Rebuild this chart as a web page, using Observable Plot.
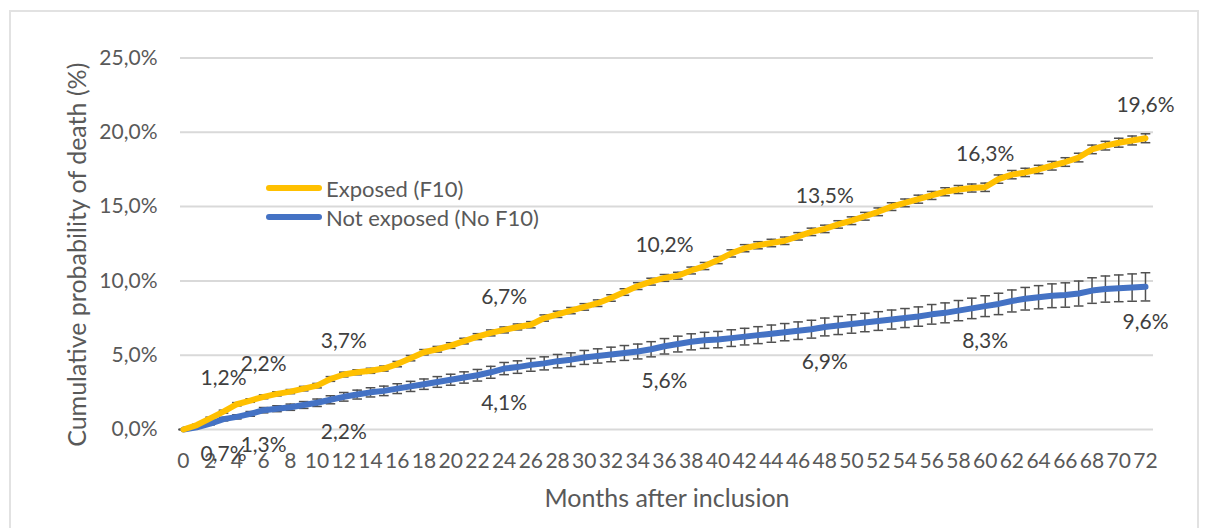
<!DOCTYPE html>
<html><head><meta charset="utf-8">
<script src="https://cdn.jsdelivr.net/npm/d3@7"></script>
<script src="https://cdn.jsdelivr.net/npm/@observablehq/plot@0.6"></script>
<style>
body{margin:0;background:#fff;}
#wrap{position:relative;width:1209px;height:528px;overflow:hidden;font-family:Lato,sans-serif;}
#frame{position:absolute;left:9px;top:10px;width:1190px;height:530px;border:2px solid #e2e2e2;box-sizing:border-box;}
#chart{position:absolute;left:0;top:0;}
.leg{position:absolute;left:266px;height:24px;display:flex;align-items:center;font-size:22px;color:#595959;}
.leg span.sw{display:inline-block;width:56px;height:6px;border-radius:3px;margin-right:4px;}
</style>
</head><body>
<div id="wrap"><div id="frame"></div><div id="chart"></div>
<div class="leg" style="top:176px"><span class="sw" style="background:#FFC000"></span>Exposed (F10)</div>
<div class="leg" style="top:205px"><span class="sw" style="background:#4472C4"></span>Not exposed (No F10)</div>
</div>
<script>
const months = d3.range(0, 73);
const exposed = [0.0,0.3,0.75,1.2,1.7,1.95,2.2,2.4,2.55,2.75,
 2.95,3.4,3.7,3.85,3.95,4.1,4.4,4.8,5.2,5.4,
 5.65,5.95,6.25,6.5,6.7,6.9,7.05,7.5,7.75,8.0,
 8.25,8.5,8.85,9.25,9.65,9.95,10.2,10.35,10.7,11.0,
 11.4,11.85,12.2,12.4,12.55,12.7,13.0,13.3,13.5,13.8,
 14.05,14.35,14.65,15.0,15.25,15.5,15.75,16.0,16.15,16.25,
 16.3,16.85,17.15,17.3,17.5,17.75,18.0,18.3,18.85,19.1,
 19.3,19.45,19.6];
const exposedErr = [0,0.05,0.08,0.1,0.11,0.12,0.13,0.14,0.14,0.15,
 0.15,0.16,0.16,0.17,0.17,0.17,0.18,0.18,0.18,0.19,
 0.19,0.19,0.2,0.2,0.2,0.2,0.21,0.21,0.21,0.21,
 0.22,0.22,0.22,0.22,0.23,0.23,0.23,0.23,0.23,0.24,
 0.24,0.24,0.24,0.24,0.25,0.25,0.25,0.25,0.25,0.25,
 0.26,0.26,0.26,0.26,0.26,0.27,0.27,0.27,0.27,0.27,
 0.28,0.28,0.28,0.28,0.28,0.29,0.29,0.29,0.29,0.29,
 0.3,0.3,0.3];
const notExposed = [0,0.15,0.4,0.7,0.85,1.05,1.3,1.4,1.5,1.65,
 1.8,2.0,2.2,2.35,2.5,2.6,2.75,2.9,3.05,3.2,
 3.35,3.5,3.65,3.85,4.1,4.2,4.35,4.45,4.6,4.7,
 4.85,4.95,5.05,5.15,5.25,5.4,5.6,5.75,5.9,6.0,
 6.05,6.15,6.25,6.35,6.45,6.55,6.65,6.75,6.9,7.0,
 7.1,7.2,7.3,7.4,7.5,7.6,7.75,7.85,8.0,8.15,
 8.3,8.45,8.65,8.8,8.9,9.0,9.05,9.15,9.35,9.45,
 9.5,9.55,9.6];
const notExposedErr = [0,0.05,0.09,0.12,0.14,0.16,0.18,0.2,0.21,0.23,
 0.25,0.27,0.29,0.3,0.31,0.32,0.33,0.34,0.35,0.36,
 0.37,0.38,0.39,0.4,0.41,0.42,0.43,0.44,0.45,0.46,
 0.47,0.48,0.49,0.5,0.5,0.51,0.52,0.53,0.54,0.54,
 0.55,0.56,0.56,0.57,0.58,0.58,0.59,0.6,0.6,0.61,
 0.62,0.62,0.63,0.64,0.64,0.65,0.66,0.67,0.68,0.69,
 0.7,0.72,0.74,0.76,0.78,0.8,0.82,0.84,0.86,0.88,
 0.9,0.92,0.95];
const labelMonths = [3, 6, 12, 24, 36, 48, 60, 72];
const exposedLabelValues = [1.2, 2.2, 3.7, 6.7, 10.2, 13.5, 16.3, 19.6];
const notExposedLabelValues = [0.7, 1.3, 2.2, 4.1, 5.6, 6.9, 8.3, 9.6];
const yTicks = [0, 5, 10, 15, 20, 25];
const xTicks = [0,2,4,6,8,10,12,14,16,18,20,22,24,26,28,30,32,34,36,38,40,42,44,46,48,50,52,54,56,58,60,62,64,66,68,70,72];

const fmt = v => v.toFixed(1).replace('.', ',') + '%';
const rows = months.map((m, i) => ({m, e: exposed[i], ee: exposedErr[i], n: notExposed[i], ne: notExposedErr[i]}));
const eLab = labelMonths.map((m, i) => ({m, v: exposedLabelValues[i]}));
const nLab = labelMonths.map((m, i) => ({m, v: notExposedLabelValues[i]}));
const cap = 0.36;
const errStyle = {stroke: '#505050', strokeWidth: 1.5};
function errMarks(val, err) {
  return [
    Plot.ruleX(rows, {x: 'm', y1: d => d[val] - d[err], y2: d => d[val] + d[err], ...errStyle}),
    Plot.link(rows, {x1: d => d.m - cap, x2: d => d.m + cap, y1: d => d[val] + d[err], y2: d => d[val] + d[err], ...errStyle}),
    Plot.link(rows, {x1: d => d.m - cap, x2: d => d.m + cap, y1: d => d[val] - d[err], y2: d => d[val] - d[err], ...errStyle})
  ];
}
const chart = Plot.plot({
  width: 1209, height: 528,
  marginLeft: 180, marginRight: 56, marginTop: 57.5, marginBottom: 99,
  x: {domain: [-0.22, 72.6]},
  y: {domain: [0, 25]},
  style: {fontFamily: 'Lato, sans-serif', fontSize: '21px', color: '#595959', background: 'transparent'},
  marks: [
    Plot.ruleY(yTicks, {stroke: '#d9d9d9', strokeWidth: 2}),
    Plot.axisY(yTicks, {tickSize: 0, tickPadding: 23, tickFormat: fmt, fill: '#595959', label: null}),
    Plot.axisX(xTicks, {tickSize: 0, tickPadding: 24, fill: '#595959', label: null}),
    Plot.text(['Months after inclusion'], {frameAnchor: 'bottom', lineAnchor: 'middle', dy: 69, fill: '#595959', fontSize: 25}),
    Plot.text(['Cumulative probability of death (%)'], {frameAnchor: 'left', rotate: -90, lineAnchor: 'middle', textAnchor: 'middle', dx: -103, dy: 11, fill: '#595959', fontSize: 25}),
    ...errMarks('n', 'ne'),
    ...errMarks('e', 'ee'),
    Plot.line(rows, {x: 'm', y: 'n', stroke: '#4472C4', strokeWidth: 6, strokeLinecap: 'round', strokeLinejoin: 'round'}),
    Plot.line(rows, {x: 'm', y: 'e', stroke: '#FFC000', strokeWidth: 6, strokeLinecap: 'round', strokeLinejoin: 'round'}),
    Plot.text(eLab, {x: 'm', y: 'v', text: d => fmt(d.v), dy: -33, fill: '#404040', fontSize: 21}),
    Plot.text(nLab, {x: 'm', y: 'v', text: d => fmt(d.v), dy: 35, fill: '#404040', fontSize: 21})
  ]
});
document.getElementById('chart').appendChild(chart);
</script>
</body></html>
